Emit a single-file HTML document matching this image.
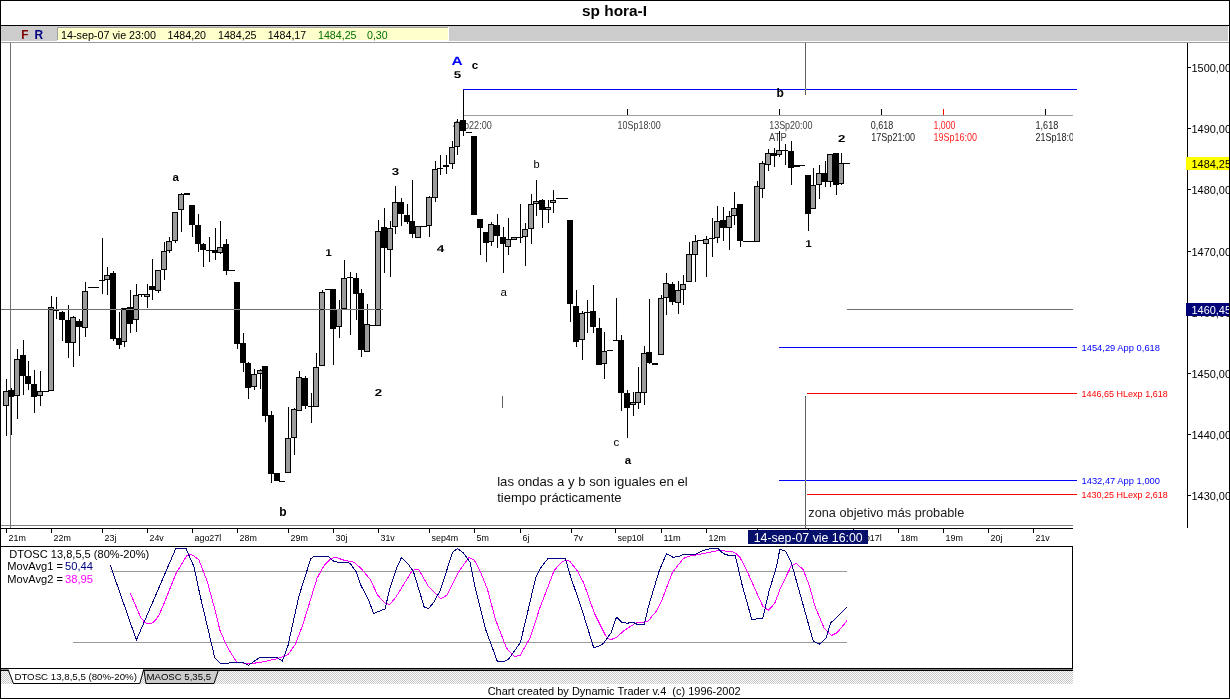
<!DOCTYPE html>
<html><head><meta charset="utf-8"><title>sp hora-I</title>
<style>
html,body{margin:0;padding:0;background:#fff;}
svg{display:block;font-family:"Liberation Sans",sans-serif;}
</style></head><body>
<svg width="1230" height="699" viewBox="0 0 1230 699" shape-rendering="crispEdges">
<rect x="0" y="0" width="1230" height="699" fill="#ffffff"/>
<rect x="0" y="25" width="1230" height="1" fill="#000"/>
<rect x="1" y="26" width="1227" height="15" fill="#cccccc"/>
<rect x="1" y="41" width="1228" height="1" fill="#ffffff"/>
<rect x="1" y="42" width="1228" height="1" fill="#9a9a9a"/>
<rect x="57" y="27" width="391" height="13" fill="#a0a0a0"/>
<rect x="58" y="28" width="390" height="12" fill="#ffffcc"/>
<rect x="57" y="40" width="392" height="1" fill="#ffffff"/>
<rect x="448" y="27" width="1" height="14" fill="#ffffff"/>
<rect x="463" y="115" width="610" height="1" fill="#a0a0a0"/>
<rect x="463" y="89" width="1" height="47" fill="#000"/>
<rect x="463" y="89" width="614" height="1" fill="#0000ff"/>
<rect x="627" y="109" width="1" height="6" fill="#000"/>
<rect x="779" y="109" width="1" height="6" fill="#000"/>
<rect x="881" y="109" width="1" height="6" fill="#000"/>
<rect x="943" y="109" width="1" height="6" fill="#ff0000"/>
<rect x="1045" y="109" width="1" height="6" fill="#000"/>
<rect x="779" y="347" width="298" height="1" fill="#0000ff"/>
<rect x="807" y="393" width="270" height="1" fill="#ff0000"/>
<rect x="779" y="480" width="298" height="1" fill="#0000ff"/>
<rect x="807" y="494" width="270" height="1" fill="#ff0000"/>
<rect x="502" y="396" width="1" height="12" fill="#606060"/>
<text x="453" y="129" font-size="11" fill="#404040" textLength="38.7" lengthAdjust="spacingAndGlyphs">4Sp22:00</text>
<text x="617.5" y="129" font-size="11" fill="#404040" textLength="43.3" lengthAdjust="spacingAndGlyphs">10Sp18:00</text>
<text x="769.2" y="129" font-size="11" fill="#404040" textLength="43.3" lengthAdjust="spacingAndGlyphs">13Sp20:00</text>
<text x="769" y="141" font-size="11" fill="#404040" textLength="17.7" lengthAdjust="spacingAndGlyphs">ATP</text>
<text x="870.8" y="129" font-size="11" fill="#1a1a1a" textLength="22.5" lengthAdjust="spacingAndGlyphs">0,618</text>
<text x="871.3" y="141" font-size="11" fill="#1a1a1a" textLength="43.7" lengthAdjust="spacingAndGlyphs">17Sp21:00</text>
<text x="933.5" y="129" font-size="11" fill="#ff2020" textLength="22" lengthAdjust="spacingAndGlyphs">1,000</text>
<text x="933.5" y="141" font-size="11" fill="#ff2020" textLength="43.5" lengthAdjust="spacingAndGlyphs">19Sp16:00</text>
<text x="1035.5" y="129" font-size="11" fill="#1a1a1a" textLength="22.8" lengthAdjust="spacingAndGlyphs">1,618</text>
<clipPath id="cpf"><rect x="1030" y="100" width="43" height="50"/></clipPath>
<text x="1035.5" y="141" font-size="11" fill="#1a1a1a" textLength="43.5" lengthAdjust="spacingAndGlyphs" clip-path="url(#cpf)">21Sp18:00</text>
<rect x="10" y="43" width="1" height="485" fill="#707070"/>
<rect x="6" y="379" width="1" height="57" fill="#000"/>
<rect x="3" y="391" width="6" height="15" fill="#000"/>
<rect x="4" y="392" width="4" height="13" fill="#9c9c9c"/>
<rect x="11" y="388" width="1" height="47" fill="#000"/>
<rect x="8" y="390" width="6" height="7" fill="#000"/>
<rect x="17" y="349" width="1" height="70" fill="#000"/>
<rect x="14" y="359" width="6" height="37" fill="#000"/>
<rect x="15" y="360" width="4" height="35" fill="#9c9c9c"/>
<rect x="23" y="340" width="1" height="55" fill="#000"/>
<rect x="20" y="355" width="6" height="21" fill="#000"/>
<rect x="28" y="361" width="1" height="29" fill="#000"/>
<rect x="25" y="376" width="6" height="8" fill="#000"/>
<rect x="34" y="370" width="1" height="43" fill="#000"/>
<rect x="31" y="384" width="6" height="13" fill="#000"/>
<rect x="40" y="371" width="1" height="35" fill="#000"/>
<rect x="37" y="391" width="6" height="5" fill="#000"/>
<rect x="38" y="392" width="4" height="3" fill="#9c9c9c"/>
<rect x="43" y="391" width="6" height="1" fill="#000"/>
<rect x="51" y="296" width="1" height="95" fill="#000"/>
<rect x="48" y="307" width="6" height="84" fill="#000"/>
<rect x="49" y="308" width="4" height="82" fill="#9c9c9c"/>
<rect x="56" y="297" width="1" height="22" fill="#000"/>
<rect x="53" y="310" width="6" height="1" fill="#000"/>
<rect x="62" y="311" width="1" height="30" fill="#000"/>
<rect x="59" y="312" width="6" height="8" fill="#000"/>
<rect x="68" y="305" width="1" height="53" fill="#000"/>
<rect x="65" y="320" width="6" height="23" fill="#000"/>
<rect x="73" y="316" width="1" height="51" fill="#000"/>
<rect x="70" y="317" width="6" height="26" fill="#000"/>
<rect x="71" y="318" width="4" height="24" fill="#9c9c9c"/>
<rect x="79" y="319" width="1" height="37" fill="#000"/>
<rect x="76" y="321" width="6" height="6" fill="#000"/>
<rect x="85" y="282" width="1" height="55" fill="#000"/>
<rect x="82" y="291" width="6" height="37" fill="#000"/>
<rect x="83" y="292" width="4" height="35" fill="#9c9c9c"/>
<rect x="88" y="287" width="6" height="1" fill="#000"/>
<rect x="93" y="287" width="6" height="1" fill="#000"/>
<rect x="102" y="238" width="1" height="56" fill="#000"/>
<rect x="99" y="280" width="6" height="1" fill="#000"/>
<rect x="107" y="267" width="1" height="28" fill="#000"/>
<rect x="104" y="275" width="6" height="5" fill="#000"/>
<rect x="105" y="276" width="4" height="3" fill="#9c9c9c"/>
<rect x="113" y="271" width="1" height="70" fill="#000"/>
<rect x="110" y="273" width="6" height="66" fill="#000"/>
<rect x="119" y="312" width="1" height="37" fill="#000"/>
<rect x="116" y="338" width="6" height="7" fill="#000"/>
<rect x="124" y="308" width="1" height="39" fill="#000"/>
<rect x="121" y="308" width="6" height="34" fill="#000"/>
<rect x="122" y="309" width="4" height="32" fill="#9c9c9c"/>
<rect x="130" y="290" width="1" height="43" fill="#000"/>
<rect x="127" y="307" width="6" height="17" fill="#000"/>
<rect x="136" y="284" width="1" height="48" fill="#000"/>
<rect x="133" y="295" width="6" height="25" fill="#000"/>
<rect x="134" y="296" width="4" height="23" fill="#9c9c9c"/>
<rect x="141" y="294" width="1" height="3" fill="#000"/>
<rect x="138" y="294" width="6" height="1" fill="#000"/>
<rect x="147" y="284" width="1" height="24" fill="#000"/>
<rect x="144" y="294" width="6" height="3" fill="#000"/>
<rect x="145" y="295" width="4" height="1" fill="#9c9c9c"/>
<rect x="152" y="259" width="1" height="41" fill="#000"/>
<rect x="149" y="286" width="6" height="4" fill="#000"/>
<rect x="158" y="270" width="1" height="23" fill="#000"/>
<rect x="155" y="270" width="6" height="21" fill="#000"/>
<rect x="156" y="271" width="4" height="19" fill="#9c9c9c"/>
<rect x="164" y="242" width="1" height="38" fill="#000"/>
<rect x="161" y="251" width="6" height="19" fill="#000"/>
<rect x="162" y="252" width="4" height="17" fill="#9c9c9c"/>
<rect x="169" y="237" width="1" height="16" fill="#000"/>
<rect x="166" y="241" width="6" height="10" fill="#000"/>
<rect x="167" y="242" width="4" height="8" fill="#9c9c9c"/>
<rect x="175" y="212" width="1" height="31" fill="#000"/>
<rect x="172" y="212" width="6" height="29" fill="#000"/>
<rect x="173" y="213" width="4" height="27" fill="#9c9c9c"/>
<rect x="181" y="193" width="1" height="39" fill="#000"/>
<rect x="178" y="194" width="6" height="16" fill="#000"/>
<rect x="179" y="195" width="4" height="14" fill="#9c9c9c"/>
<rect x="184" y="193" width="6" height="2" fill="#000"/>
<rect x="192" y="205" width="1" height="32" fill="#000"/>
<rect x="189" y="205" width="6" height="20" fill="#000"/>
<rect x="198" y="214" width="1" height="38" fill="#000"/>
<rect x="195" y="225" width="6" height="19" fill="#000"/>
<rect x="203" y="243" width="1" height="24" fill="#000"/>
<rect x="200" y="244" width="6" height="6" fill="#000"/>
<rect x="209" y="237" width="1" height="25" fill="#000"/>
<rect x="206" y="250" width="6" height="1" fill="#000"/>
<rect x="215" y="228" width="1" height="32" fill="#000"/>
<rect x="212" y="250" width="6" height="3" fill="#000"/>
<rect x="220" y="221" width="1" height="33" fill="#000"/>
<rect x="217" y="247" width="6" height="6" fill="#000"/>
<rect x="218" y="248" width="4" height="4" fill="#9c9c9c"/>
<rect x="226" y="239" width="1" height="36" fill="#000"/>
<rect x="223" y="244" width="6" height="27" fill="#000"/>
<rect x="229" y="270" width="6" height="1" fill="#000"/>
<rect x="237" y="282" width="1" height="67" fill="#000"/>
<rect x="234" y="282" width="6" height="62" fill="#000"/>
<rect x="243" y="333" width="1" height="39" fill="#000"/>
<rect x="240" y="343" width="6" height="20" fill="#000"/>
<rect x="248" y="362" width="1" height="37" fill="#000"/>
<rect x="245" y="363" width="6" height="25" fill="#000"/>
<rect x="254" y="369" width="1" height="21" fill="#000"/>
<rect x="251" y="374" width="6" height="13" fill="#000"/>
<rect x="252" y="375" width="4" height="11" fill="#9c9c9c"/>
<rect x="260" y="369" width="1" height="20" fill="#000"/>
<rect x="257" y="370" width="6" height="4" fill="#000"/>
<rect x="258" y="371" width="4" height="2" fill="#9c9c9c"/>
<rect x="265" y="366" width="1" height="56" fill="#000"/>
<rect x="262" y="366" width="6" height="50" fill="#000"/>
<rect x="271" y="411" width="1" height="72" fill="#000"/>
<rect x="268" y="415" width="6" height="59" fill="#000"/>
<rect x="274" y="473" width="6" height="8" fill="#000"/>
<rect x="279" y="481" width="6" height="1" fill="#000"/>
<rect x="288" y="407" width="1" height="66" fill="#000"/>
<rect x="285" y="438" width="6" height="35" fill="#000"/>
<rect x="286" y="439" width="4" height="33" fill="#9c9c9c"/>
<rect x="294" y="408" width="1" height="47" fill="#000"/>
<rect x="291" y="409" width="6" height="29" fill="#000"/>
<rect x="292" y="410" width="4" height="27" fill="#9c9c9c"/>
<rect x="299" y="371" width="1" height="40" fill="#000"/>
<rect x="296" y="377" width="6" height="34" fill="#000"/>
<rect x="297" y="378" width="4" height="32" fill="#9c9c9c"/>
<rect x="305" y="376" width="1" height="33" fill="#000"/>
<rect x="302" y="378" width="6" height="28" fill="#000"/>
<rect x="311" y="393" width="1" height="30" fill="#000"/>
<rect x="308" y="406" width="6" height="1" fill="#000"/>
<rect x="316" y="353" width="1" height="54" fill="#000"/>
<rect x="313" y="367" width="6" height="40" fill="#000"/>
<rect x="314" y="368" width="4" height="38" fill="#9c9c9c"/>
<rect x="322" y="290" width="1" height="76" fill="#000"/>
<rect x="319" y="292" width="6" height="74" fill="#000"/>
<rect x="320" y="293" width="4" height="72" fill="#9c9c9c"/>
<rect x="325" y="289" width="6" height="1" fill="#000"/>
<rect x="333" y="289" width="1" height="76" fill="#000"/>
<rect x="330" y="289" width="6" height="40" fill="#000"/>
<rect x="339" y="300" width="1" height="38" fill="#000"/>
<rect x="336" y="309" width="6" height="18" fill="#000"/>
<rect x="337" y="310" width="4" height="16" fill="#9c9c9c"/>
<rect x="344" y="260" width="1" height="49" fill="#000"/>
<rect x="341" y="278" width="6" height="31" fill="#000"/>
<rect x="342" y="279" width="4" height="29" fill="#9c9c9c"/>
<rect x="350" y="272" width="1" height="63" fill="#000"/>
<rect x="347" y="277" width="6" height="1" fill="#000"/>
<rect x="356" y="273" width="1" height="47" fill="#000"/>
<rect x="353" y="278" width="6" height="16" fill="#000"/>
<rect x="361" y="289" width="1" height="68" fill="#000"/>
<rect x="358" y="293" width="6" height="57" fill="#000"/>
<rect x="367" y="304" width="1" height="48" fill="#000"/>
<rect x="364" y="324" width="6" height="28" fill="#000"/>
<rect x="365" y="325" width="4" height="26" fill="#9c9c9c"/>
<rect x="370" y="325" width="6" height="1" fill="#000"/>
<rect x="378" y="220" width="1" height="106" fill="#000"/>
<rect x="375" y="231" width="6" height="95" fill="#000"/>
<rect x="376" y="232" width="4" height="93" fill="#9c9c9c"/>
<rect x="384" y="208" width="1" height="65" fill="#000"/>
<rect x="381" y="227" width="6" height="21" fill="#000"/>
<rect x="390" y="221" width="1" height="56" fill="#000"/>
<rect x="387" y="228" width="6" height="22" fill="#000"/>
<rect x="388" y="229" width="4" height="20" fill="#9c9c9c"/>
<rect x="395" y="186" width="1" height="48" fill="#000"/>
<rect x="392" y="202" width="6" height="25" fill="#000"/>
<rect x="393" y="203" width="4" height="23" fill="#9c9c9c"/>
<rect x="401" y="198" width="1" height="28" fill="#000"/>
<rect x="398" y="202" width="6" height="12" fill="#000"/>
<rect x="407" y="204" width="1" height="20" fill="#000"/>
<rect x="404" y="215" width="6" height="7" fill="#000"/>
<rect x="412" y="180" width="1" height="58" fill="#000"/>
<rect x="409" y="221" width="6" height="13" fill="#000"/>
<rect x="418" y="226" width="1" height="12" fill="#000"/>
<rect x="415" y="226" width="6" height="12" fill="#000"/>
<rect x="416" y="227" width="4" height="10" fill="#9c9c9c"/>
<rect x="421" y="226" width="6" height="1" fill="#000"/>
<rect x="429" y="196" width="1" height="41" fill="#000"/>
<rect x="426" y="197" width="6" height="29" fill="#000"/>
<rect x="427" y="198" width="4" height="27" fill="#9c9c9c"/>
<rect x="435" y="161" width="1" height="41" fill="#000"/>
<rect x="432" y="169" width="6" height="29" fill="#000"/>
<rect x="433" y="170" width="4" height="27" fill="#9c9c9c"/>
<rect x="440" y="155" width="1" height="20" fill="#000"/>
<rect x="437" y="168" width="6" height="1" fill="#000"/>
<rect x="446" y="155" width="1" height="19" fill="#000"/>
<rect x="443" y="165" width="6" height="2" fill="#000"/>
<rect x="452" y="141" width="1" height="28" fill="#000"/>
<rect x="449" y="147" width="6" height="17" fill="#000"/>
<rect x="450" y="148" width="4" height="15" fill="#9c9c9c"/>
<rect x="457" y="119" width="1" height="36" fill="#000"/>
<rect x="454" y="122" width="6" height="25" fill="#000"/>
<rect x="455" y="123" width="4" height="23" fill="#9c9c9c"/>
<rect x="463" y="120" width="1" height="16" fill="#000"/>
<rect x="460" y="120" width="6" height="11" fill="#000"/>
<rect x="466" y="132" width="6" height="1" fill="#000"/>
<rect x="474" y="136" width="1" height="79" fill="#000"/>
<rect x="471" y="136" width="6" height="79" fill="#000"/>
<rect x="480" y="219" width="1" height="36" fill="#000"/>
<rect x="477" y="219" width="6" height="9" fill="#000"/>
<rect x="486" y="232" width="1" height="30" fill="#000"/>
<rect x="483" y="232" width="6" height="11" fill="#000"/>
<rect x="491" y="222" width="1" height="24" fill="#000"/>
<rect x="488" y="224" width="6" height="18" fill="#000"/>
<rect x="489" y="225" width="4" height="16" fill="#9c9c9c"/>
<rect x="497" y="214" width="1" height="34" fill="#000"/>
<rect x="494" y="225" width="6" height="11" fill="#000"/>
<rect x="503" y="227" width="1" height="46" fill="#000"/>
<rect x="500" y="237" width="6" height="7" fill="#000"/>
<rect x="508" y="218" width="1" height="37" fill="#000"/>
<rect x="505" y="239" width="6" height="8" fill="#000"/>
<rect x="506" y="240" width="4" height="6" fill="#9c9c9c"/>
<rect x="511" y="237" width="6" height="3" fill="#000"/>
<rect x="512" y="238" width="4" height="1" fill="#9c9c9c"/>
<rect x="520" y="204" width="1" height="39" fill="#000"/>
<rect x="517" y="237" width="6" height="1" fill="#000"/>
<rect x="525" y="223" width="1" height="43" fill="#000"/>
<rect x="522" y="229" width="6" height="8" fill="#000"/>
<rect x="523" y="230" width="4" height="6" fill="#9c9c9c"/>
<rect x="531" y="194" width="1" height="50" fill="#000"/>
<rect x="528" y="204" width="6" height="25" fill="#000"/>
<rect x="529" y="205" width="4" height="23" fill="#9c9c9c"/>
<rect x="536" y="180" width="1" height="36" fill="#000"/>
<rect x="533" y="201" width="6" height="3" fill="#000"/>
<rect x="534" y="202" width="4" height="1" fill="#9c9c9c"/>
<rect x="542" y="199" width="1" height="29" fill="#000"/>
<rect x="539" y="200" width="6" height="10" fill="#000"/>
<rect x="548" y="200" width="1" height="23" fill="#000"/>
<rect x="545" y="207" width="6" height="3" fill="#000"/>
<rect x="546" y="208" width="4" height="1" fill="#9c9c9c"/>
<rect x="553" y="190" width="1" height="23" fill="#000"/>
<rect x="550" y="200" width="6" height="3" fill="#000"/>
<rect x="551" y="201" width="4" height="1" fill="#9c9c9c"/>
<rect x="556" y="198" width="6" height="1" fill="#000"/>
<rect x="562" y="198" width="6" height="1" fill="#000"/>
<rect x="570" y="220" width="1" height="102" fill="#000"/>
<rect x="567" y="220" width="6" height="84" fill="#000"/>
<rect x="576" y="290" width="1" height="57" fill="#000"/>
<rect x="573" y="306" width="6" height="36" fill="#000"/>
<rect x="582" y="311" width="1" height="49" fill="#000"/>
<rect x="579" y="313" width="6" height="27" fill="#000"/>
<rect x="580" y="314" width="4" height="25" fill="#9c9c9c"/>
<rect x="587" y="300" width="1" height="33" fill="#000"/>
<rect x="584" y="312" width="6" height="1" fill="#000"/>
<rect x="593" y="285" width="1" height="48" fill="#000"/>
<rect x="590" y="311" width="6" height="16" fill="#000"/>
<rect x="599" y="318" width="1" height="47" fill="#000"/>
<rect x="596" y="328" width="6" height="37" fill="#000"/>
<rect x="604" y="332" width="1" height="47" fill="#000"/>
<rect x="601" y="351" width="6" height="13" fill="#000"/>
<rect x="602" y="352" width="4" height="11" fill="#9c9c9c"/>
<rect x="607" y="350" width="6" height="1" fill="#000"/>
<rect x="616" y="298" width="1" height="42" fill="#000"/>
<rect x="613" y="340" width="6" height="1" fill="#000"/>
<rect x="621" y="335" width="1" height="76" fill="#000"/>
<rect x="618" y="340" width="6" height="53" fill="#000"/>
<rect x="627" y="390" width="1" height="48" fill="#000"/>
<rect x="624" y="393" width="6" height="15" fill="#000"/>
<rect x="633" y="392" width="1" height="24" fill="#000"/>
<rect x="630" y="402" width="6" height="3" fill="#000"/>
<rect x="631" y="403" width="4" height="1" fill="#9c9c9c"/>
<rect x="638" y="367" width="1" height="42" fill="#000"/>
<rect x="635" y="392" width="6" height="11" fill="#000"/>
<rect x="636" y="393" width="4" height="9" fill="#9c9c9c"/>
<rect x="644" y="346" width="1" height="59" fill="#000"/>
<rect x="641" y="353" width="6" height="40" fill="#000"/>
<rect x="642" y="354" width="4" height="38" fill="#9c9c9c"/>
<rect x="649" y="299" width="1" height="65" fill="#000"/>
<rect x="646" y="352" width="6" height="11" fill="#000"/>
<rect x="652" y="363" width="6" height="2" fill="#000"/>
<rect x="661" y="295" width="1" height="60" fill="#000"/>
<rect x="658" y="298" width="6" height="57" fill="#000"/>
<rect x="659" y="299" width="4" height="55" fill="#9c9c9c"/>
<rect x="666" y="273" width="1" height="42" fill="#000"/>
<rect x="663" y="283" width="6" height="15" fill="#000"/>
<rect x="664" y="284" width="4" height="13" fill="#9c9c9c"/>
<rect x="672" y="282" width="1" height="23" fill="#000"/>
<rect x="669" y="284" width="6" height="18" fill="#000"/>
<rect x="678" y="281" width="1" height="33" fill="#000"/>
<rect x="675" y="290" width="6" height="13" fill="#000"/>
<rect x="676" y="291" width="4" height="11" fill="#9c9c9c"/>
<rect x="683" y="275" width="1" height="30" fill="#000"/>
<rect x="680" y="284" width="6" height="6" fill="#000"/>
<rect x="681" y="285" width="4" height="4" fill="#9c9c9c"/>
<rect x="689" y="242" width="1" height="40" fill="#000"/>
<rect x="686" y="254" width="6" height="28" fill="#000"/>
<rect x="687" y="255" width="4" height="26" fill="#9c9c9c"/>
<rect x="695" y="235" width="1" height="47" fill="#000"/>
<rect x="692" y="241" width="6" height="14" fill="#000"/>
<rect x="693" y="242" width="4" height="12" fill="#9c9c9c"/>
<rect x="697" y="240" width="6" height="1" fill="#000"/>
<rect x="706" y="236" width="1" height="41" fill="#000"/>
<rect x="703" y="239" width="6" height="5" fill="#000"/>
<rect x="704" y="240" width="4" height="3" fill="#9c9c9c"/>
<rect x="712" y="218" width="1" height="39" fill="#000"/>
<rect x="709" y="238" width="6" height="1" fill="#000"/>
<rect x="717" y="206" width="1" height="37" fill="#000"/>
<rect x="714" y="221" width="6" height="17" fill="#000"/>
<rect x="715" y="222" width="4" height="15" fill="#9c9c9c"/>
<rect x="723" y="207" width="1" height="34" fill="#000"/>
<rect x="720" y="220" width="6" height="8" fill="#000"/>
<rect x="729" y="211" width="1" height="39" fill="#000"/>
<rect x="726" y="216" width="6" height="12" fill="#000"/>
<rect x="727" y="217" width="4" height="10" fill="#9c9c9c"/>
<rect x="734" y="192" width="1" height="33" fill="#000"/>
<rect x="731" y="208" width="6" height="8" fill="#000"/>
<rect x="732" y="209" width="4" height="6" fill="#9c9c9c"/>
<rect x="740" y="204" width="1" height="43" fill="#000"/>
<rect x="737" y="204" width="6" height="37" fill="#000"/>
<rect x="743" y="241" width="6" height="1" fill="#000"/>
<rect x="748" y="241" width="6" height="1" fill="#000"/>
<rect x="757" y="181" width="1" height="61" fill="#000"/>
<rect x="754" y="186" width="6" height="56" fill="#000"/>
<rect x="755" y="187" width="4" height="54" fill="#9c9c9c"/>
<rect x="762" y="161" width="1" height="37" fill="#000"/>
<rect x="759" y="163" width="6" height="26" fill="#000"/>
<rect x="760" y="164" width="4" height="24" fill="#9c9c9c"/>
<rect x="768" y="149" width="1" height="22" fill="#000"/>
<rect x="765" y="153" width="6" height="12" fill="#000"/>
<rect x="766" y="154" width="4" height="10" fill="#9c9c9c"/>
<rect x="774" y="148" width="1" height="19" fill="#000"/>
<rect x="771" y="153" width="6" height="3" fill="#000"/>
<rect x="779" y="131" width="1" height="26" fill="#000"/>
<rect x="776" y="150" width="6" height="5" fill="#000"/>
<rect x="777" y="151" width="4" height="3" fill="#9c9c9c"/>
<rect x="785" y="144" width="1" height="21" fill="#000"/>
<rect x="782" y="150" width="6" height="1" fill="#000"/>
<rect x="791" y="141" width="1" height="44" fill="#000"/>
<rect x="788" y="151" width="6" height="17" fill="#000"/>
<rect x="794" y="165" width="6" height="2" fill="#000"/>
<rect x="799" y="165" width="6" height="1" fill="#000"/>
<rect x="808" y="175" width="1" height="56" fill="#000"/>
<rect x="805" y="175" width="6" height="39" fill="#000"/>
<rect x="813" y="168" width="1" height="41" fill="#000"/>
<rect x="810" y="185" width="6" height="24" fill="#000"/>
<rect x="811" y="186" width="4" height="22" fill="#9c9c9c"/>
<rect x="819" y="165" width="1" height="34" fill="#000"/>
<rect x="816" y="173" width="6" height="12" fill="#000"/>
<rect x="817" y="174" width="4" height="10" fill="#9c9c9c"/>
<rect x="825" y="161" width="1" height="26" fill="#000"/>
<rect x="822" y="173" width="6" height="9" fill="#000"/>
<rect x="830" y="154" width="1" height="33" fill="#000"/>
<rect x="827" y="154" width="6" height="28" fill="#000"/>
<rect x="828" y="155" width="4" height="26" fill="#9c9c9c"/>
<rect x="836" y="153" width="1" height="42" fill="#000"/>
<rect x="833" y="153" width="6" height="32" fill="#000"/>
<rect x="841" y="153" width="1" height="32" fill="#000"/>
<rect x="838" y="163" width="6" height="21" fill="#000"/>
<rect x="839" y="164" width="4" height="19" fill="#9c9c9c"/>
<rect x="844" y="163" width="6" height="1" fill="#000"/>
<rect x="1" y="309" width="9" height="1" fill="#8f8f8f" style="mix-blend-mode:difference"/>
<rect x="11" y="309" width="372" height="1" fill="#8f8f8f" style="mix-blend-mode:difference"/>
<rect x="847" y="309" width="226" height="1" fill="#8f8f8f" style="mix-blend-mode:difference"/>
<rect x="805" y="43" width="1" height="52" fill="#9f9f9f" style="mix-blend-mode:difference"/>
<rect x="805" y="396" width="1" height="132" fill="#9f9f9f" style="mix-blend-mode:difference"/>
<rect x="1187" y="43" width="1" height="485" fill="#000"/>
<clipPath id="cpa"><rect x="1186" y="43" width="43" height="500"/></clipPath>
<g clip-path="url(#cpa)">
<rect x="1188" y="495" width="3" height="1" fill="#000"/>
<text x="1191.5" y="500" font-size="11" fill="#000" textLength="39.5" lengthAdjust="spacingAndGlyphs">1430,00</text>
<rect x="1188" y="434" width="3" height="1" fill="#000"/>
<text x="1191.5" y="439" font-size="11" fill="#000" textLength="39.5" lengthAdjust="spacingAndGlyphs">1440,00</text>
<rect x="1188" y="373" width="3" height="1" fill="#000"/>
<text x="1191.5" y="378" font-size="11" fill="#000" textLength="39.5" lengthAdjust="spacingAndGlyphs">1450,00</text>
<rect x="1188" y="312" width="3" height="1" fill="#000"/>
<text x="1191.5" y="317" font-size="11" fill="#000" textLength="39.5" lengthAdjust="spacingAndGlyphs">1460,00</text>
<rect x="1188" y="251" width="3" height="1" fill="#000"/>
<text x="1191.5" y="256" font-size="11" fill="#000" textLength="39.5" lengthAdjust="spacingAndGlyphs">1470,00</text>
<rect x="1188" y="189" width="3" height="1" fill="#000"/>
<text x="1191.5" y="194" font-size="11" fill="#000" textLength="39.5" lengthAdjust="spacingAndGlyphs">1480,00</text>
<rect x="1188" y="128" width="3" height="1" fill="#000"/>
<text x="1191.5" y="133" font-size="11" fill="#000" textLength="39.5" lengthAdjust="spacingAndGlyphs">1490,00</text>
<rect x="1188" y="67" width="3" height="1" fill="#000"/>
<text x="1191.5" y="72" font-size="11" fill="#000" textLength="39.5" lengthAdjust="spacingAndGlyphs">1500,00</text>
<rect x="1186" y="157" width="43" height="13" fill="#ffff00"/>
<text x="1191.5" y="168" font-size="11" fill="#000" textLength="39.5" lengthAdjust="spacingAndGlyphs">1484,25</text>
<rect x="1186" y="303" width="43" height="13" fill="#000078"/>
<text x="1191.5" y="314" font-size="11" fill="#fff" textLength="39.5" lengthAdjust="spacingAndGlyphs">1460,45</text>
</g>
<text x="1081.5" y="351" font-size="9.4" fill="#0000ff" textLength="78.5" lengthAdjust="spacingAndGlyphs">1454,29 App 0,618</text>
<text x="1081.5" y="397" font-size="9.4" fill="#ff0000" textLength="86.2" lengthAdjust="spacingAndGlyphs">1446,65 HLexp 1,618</text>
<text x="1081.5" y="484" font-size="9.4" fill="#0000ff" textLength="78.5" lengthAdjust="spacingAndGlyphs">1432,47 App 1,000</text>
<text x="1081.5" y="498" font-size="9.4" fill="#ff0000" textLength="86.2" lengthAdjust="spacingAndGlyphs">1430,25 HLexp 2,618</text>
<text x="497.2" y="486" font-size="13" fill="#101010" textLength="190.6" lengthAdjust="spacingAndGlyphs">las ondas a y b son iguales en el</text>
<text x="497.2" y="502" font-size="13" fill="#101010" textLength="124.3" lengthAdjust="spacingAndGlyphs">tiempo prácticamente</text>
<text x="808.3" y="517" font-size="13" fill="#202020" textLength="156" lengthAdjust="spacingAndGlyphs">zona objetivo más probable</text>
<text x="172.6" y="181" font-size="11.5" fill="#000" font-weight="bold">a</text>
<text x="279.3" y="516" font-size="12" fill="#000" font-weight="bold">b</text>
<text x="325.5" y="256" font-size="10" fill="#000" font-weight="bold" textLength="6.2" lengthAdjust="spacingAndGlyphs" text-rendering="geometricPrecision">1</text>
<text x="374.8" y="396" font-size="10" fill="#000" font-weight="bold" textLength="7.4" lengthAdjust="spacingAndGlyphs" text-rendering="geometricPrecision">2</text>
<text x="391.8" y="175" font-size="10" fill="#000" font-weight="bold" textLength="7.4" lengthAdjust="spacingAndGlyphs" text-rendering="geometricPrecision">3</text>
<text x="436.8" y="252" font-size="10" fill="#000" font-weight="bold" textLength="7.6" lengthAdjust="spacingAndGlyphs" text-rendering="geometricPrecision">4</text>
<text x="451.6" y="65" font-size="12" fill="#0000ff" font-weight="bold" textLength="11.2" lengthAdjust="spacingAndGlyphs" text-rendering="geometricPrecision">A</text>
<text x="453.8" y="78" font-size="10" fill="#000" font-weight="bold" textLength="7.4" lengthAdjust="spacingAndGlyphs" text-rendering="geometricPrecision">5</text>
<text x="471.8" y="69" font-size="11.5" fill="#000" font-weight="bold">c</text>
<text x="533.5" y="167.5" font-size="11" fill="#000">b</text>
<text x="500.6" y="295.8" font-size="11.5" fill="#000">a</text>
<text x="613.6" y="445.8" font-size="11.5" fill="#000">c</text>
<text x="624.8" y="463.8" font-size="11.5" fill="#000" font-weight="bold">a</text>
<text x="776.6" y="97.2" font-size="12" fill="#000" font-weight="bold">b</text>
<text x="805.5" y="247" font-size="10" fill="#000" font-weight="bold" textLength="6.2" lengthAdjust="spacingAndGlyphs" text-rendering="geometricPrecision">1</text>
<text x="838" y="142" font-size="10" fill="#000" font-weight="bold" textLength="7.4" lengthAdjust="spacingAndGlyphs" text-rendering="geometricPrecision">2</text>
<rect x="1" y="525" width="1072" height="1" fill="#808080"/>
<rect x="1" y="528" width="1072" height="1" fill="#000"/>
<rect x="6" y="528" width="1" height="5" fill="#000"/>
<text x="8.5" y="541" font-size="9.4" fill="#000" textLength="17.3" lengthAdjust="spacingAndGlyphs">21m</text>
<rect x="51" y="528" width="1" height="5" fill="#000"/>
<text x="53.5" y="541" font-size="9.4" fill="#000" textLength="17.3" lengthAdjust="spacingAndGlyphs">22m</text>
<rect x="102" y="528" width="1" height="5" fill="#000"/>
<text x="104.5" y="541" font-size="9.4" fill="#000" textLength="11.9" lengthAdjust="spacingAndGlyphs">23j</text>
<rect x="147" y="528" width="1" height="5" fill="#000"/>
<text x="149.5" y="541" font-size="9.4" fill="#000" textLength="14.3" lengthAdjust="spacingAndGlyphs">24v</text>
<rect x="192" y="528" width="1" height="5" fill="#000"/>
<text x="194.5" y="541" font-size="9.4" fill="#000" textLength="26.7" lengthAdjust="spacingAndGlyphs">ago27l</text>
<rect x="237" y="528" width="1" height="5" fill="#000"/>
<text x="239.5" y="541" font-size="9.4" fill="#000" textLength="17.3" lengthAdjust="spacingAndGlyphs">28m</text>
<rect x="288" y="528" width="1" height="5" fill="#000"/>
<text x="290.5" y="541" font-size="9.4" fill="#000" textLength="17.3" lengthAdjust="spacingAndGlyphs">29m</text>
<rect x="333" y="528" width="1" height="5" fill="#000"/>
<text x="335.5" y="541" font-size="9.4" fill="#000" textLength="11.9" lengthAdjust="spacingAndGlyphs">30j</text>
<rect x="378" y="528" width="1" height="5" fill="#000"/>
<text x="380.5" y="541" font-size="9.4" fill="#000" textLength="14.3" lengthAdjust="spacingAndGlyphs">31v</text>
<rect x="429" y="528" width="1" height="5" fill="#000"/>
<text x="431.5" y="541" font-size="9.4" fill="#000" textLength="26.7" lengthAdjust="spacingAndGlyphs">sep4m</text>
<rect x="474" y="528" width="1" height="5" fill="#000"/>
<text x="476.5" y="541" font-size="9.4" fill="#000" textLength="12.4" lengthAdjust="spacingAndGlyphs">5m</text>
<rect x="520" y="528" width="1" height="5" fill="#000"/>
<text x="522.5" y="541" font-size="9.4" fill="#000" textLength="6.9" lengthAdjust="spacingAndGlyphs">6j</text>
<rect x="571" y="528" width="1" height="5" fill="#000"/>
<text x="573.5" y="541" font-size="9.4" fill="#000" textLength="9.4" lengthAdjust="spacingAndGlyphs">7v</text>
<rect x="615" y="528" width="1" height="5" fill="#000"/>
<text x="617.5" y="541" font-size="9.4" fill="#000" textLength="26.2" lengthAdjust="spacingAndGlyphs">sep10l</text>
<rect x="661" y="528" width="1" height="5" fill="#000"/>
<text x="663.5" y="541" font-size="9.4" fill="#000" textLength="17.3" lengthAdjust="spacingAndGlyphs">11m</text>
<rect x="706" y="528" width="1" height="5" fill="#000"/>
<text x="708.5" y="541" font-size="9.4" fill="#000" textLength="17.3" lengthAdjust="spacingAndGlyphs">12m</text>
<rect x="757" y="528" width="1" height="5" fill="#000"/>
<text x="759.5" y="541" font-size="9.4" fill="#000" textLength="11.9" lengthAdjust="spacingAndGlyphs">13j</text>
<rect x="808" y="528" width="1" height="5" fill="#000"/>
<text x="810.5" y="541" font-size="9.4" fill="#000" textLength="14.3" lengthAdjust="spacingAndGlyphs">14v</text>
<rect x="853" y="528" width="1" height="5" fill="#000"/>
<text x="855.5" y="541" font-size="9.4" fill="#000" textLength="26.2" lengthAdjust="spacingAndGlyphs">sep17l</text>
<rect x="898" y="528" width="1" height="5" fill="#000"/>
<text x="900.5" y="541" font-size="9.4" fill="#000" textLength="17.3" lengthAdjust="spacingAndGlyphs">18m</text>
<rect x="943" y="528" width="1" height="5" fill="#000"/>
<text x="945.5" y="541" font-size="9.4" fill="#000" textLength="17.3" lengthAdjust="spacingAndGlyphs">19m</text>
<rect x="988" y="528" width="1" height="5" fill="#000"/>
<text x="990.5" y="541" font-size="9.4" fill="#000" textLength="11.9" lengthAdjust="spacingAndGlyphs">20j</text>
<rect x="1033" y="528" width="1" height="5" fill="#000"/>
<text x="1035.5" y="541" font-size="9.4" fill="#000" textLength="14.3" lengthAdjust="spacingAndGlyphs">21v</text>
<rect x="748" y="530" width="120" height="14" fill="#06106c"/>
<text x="753.7" y="542" font-size="13" fill="#fff" textLength="109" lengthAdjust="spacingAndGlyphs">14-sep-07 vie 16:00</text>
<rect x="0" y="546" width="1073" height="1" fill="#000"/>
<rect x="1072" y="546" width="1" height="123" fill="#000"/>
<rect x="0" y="668" width="1073" height="1" fill="#000"/>
<rect x="110" y="571" width="737" height="1" fill="#999999"/>
<rect x="73" y="642" width="774" height="1" fill="#999999"/>
<polyline points="130.4,593.4 141.0,618.0 145.0,622.5 148.4,624.0 152.0,623.2 155.7,620.0 159.3,614.4 164.8,601.6 170.0,588.5 175.8,574.0 186.8,555.5 191.4,554.4 198.7,559.5 200.0,562.8 207.3,581.5 214.7,608.9 220.1,630.9 227.5,647.4 236.6,662.0 249.5,663.9 262.3,662.0 276.9,658.8 287.9,654.7 295.2,644.7 302.6,625.4 309.9,601.6 317.2,577.8 324.5,565.0 331.0,558.6 335.5,557.3 344.7,560.4 353.8,562.2 361.2,568.6 370.3,579.6 377.7,595.2 385.0,603.1 389.6,604.7 396.0,597.0 403.3,585.1 412.5,570.1 418.7,569.6 428.7,587.0 440.6,598.9 447.0,595.2 459.0,571.4 469.0,557.3 474.5,560.4 481.0,573.2 487.3,588.8 495.6,619.9 506.6,648.3 514.8,656.6 520.3,655.1 530.4,637.3 539.5,608.9 554.2,570.5 561.5,562.2 564.3,560.9 567.0,560.4 569.8,561.4 572.5,564.8 577.1,570.5 583.5,582.4 594.5,613.5 605.5,635.5 610.0,640.1 616.5,637.3 623.8,630.9 634.8,623.6 637.3,622.7 642.8,622.7 648.3,620.8 656.6,610.8 662.0,599.8 672.1,573.2 683.1,558.6 688.6,556.2 696.8,554.9 708.8,552.5 719.7,550.3 734.4,552.2 739.9,557.3 747.2,571.4 758.2,596.1 762.8,606.2 768.3,610.4 774.7,603.4 780.2,588.8 791.2,565.9 796.3,563.5 803.1,569.6 809.5,586.0 815.0,606.2 824.1,628.2 831.5,635.5 837.0,632.7 842.5,626.3 847.0,620.5" fill="none" stroke="#ff00ff" stroke-width="1" shape-rendering="crispEdges"/>
<polyline points="110.3,565.3 136.4,640.0 175.8,548.5 186.0,548.5 194.0,566.8 200.0,595.2 214.7,657.5 220.1,663.3 228.4,663.3 230.2,662.4 243.0,662.4 248.5,665.3 259.5,657.5 277.0,657.5 282.4,661.1 288.0,645.6 298.9,596.1 310.8,558.6 314.5,556.2 328.2,556.2 333.7,561.3 338.3,562.2 346.5,562.2 350.2,563.5 356.6,572.3 360.3,584.2 368.5,599.8 373.6,613.5 385.0,608.9 389.6,589.7 396.0,569.6 401.5,557.3 408.8,565.0 413.4,571.4 419.8,592.5 424.2,607.1 428.7,608.6 434.2,601.6 440.6,589.7 452.5,552.2 457.5,548.6 463.5,553.1 470.0,562.2 475.4,588.8 485.5,629.1 497.4,661.5 503.8,661.5 508.4,659.3 520.3,642.8 525.8,619.9 535.9,576.9 541.4,566.8 548.3,558.2 565.2,558.2 570.7,576.9 581.7,608.9 593.6,647.4 598.2,646.5 603.6,643.4 611.0,632.7 616.5,617.2 622.0,622.3 627.5,623.2 633.0,622.1 637.3,624.5 644.3,624.5 648.3,607.1 659.3,570.5 666.6,553.6 673.0,557.3 679.5,556.2 683.1,554.4 695.0,554.4 703.3,550.3 711.5,548.5 717.9,548.5 723.4,553.6 728.9,555.5 735.3,555.5 741.7,583.3 751.8,619.6 762.8,618.1 769.2,590.6 776.5,566.8 779.8,549.4 785.7,551.2 791.2,562.2 802.2,601.6 813.2,641.0 819.6,644.1 826.0,638.2 830.5,623.2 847.0,607.1" fill="none" stroke="#000080" stroke-width="1" shape-rendering="crispEdges"/>
<text x="9.2" y="557.7" font-size="11" fill="#000" textLength="140" lengthAdjust="spacingAndGlyphs">DTOSC 13,8,5,5 (80%-20%)</text>
<text x="7.3" y="569.7" font-size="11" fill="#000" textLength="55.7" lengthAdjust="spacingAndGlyphs">MovAvg1 =</text>
<text x="65" y="569.7" font-size="11" fill="#000080" textLength="28" lengthAdjust="spacingAndGlyphs">50,44</text>
<text x="7.3" y="582.8" font-size="11" fill="#000" textLength="55.7" lengthAdjust="spacingAndGlyphs">MovAvg2 =</text>
<text x="65" y="582.8" font-size="11" fill="#ff00ff" textLength="28" lengthAdjust="spacingAndGlyphs">38,95</text>
<pattern id="dz" width="2" height="2" patternUnits="userSpaceOnUse"><rect width="2" height="2" fill="#fff"/><rect width="1" height="1" fill="#c8c8c8"/><rect x="1" y="1" width="1" height="1" fill="#c8c8c8"/></pattern>
<rect x="1" y="669" width="1072" height="1" fill="#808080"/>
<rect x="1" y="670" width="1072" height="1" fill="#000"/>
<rect x="1" y="671" width="1072" height="13" fill="url(#dz)"/>
<polygon points="8.5,669 143.5,669 139.8,683.5 13.4,683.5" fill="#fff" stroke="none" shape-rendering="auto"/>
<polyline points="8.3,670 13.4,683.5 139.8,683.5 143.7,669.5" fill="none" stroke="#000" stroke-width="1" shape-rendering="auto"/>
<polygon points="144,670.5 218.3,670.5 214,683.5 146,683.5" fill="#cccccc" stroke="#000" stroke-width="1" shape-rendering="auto"/>
<text x="14.4" y="680" font-size="9.8" fill="#000" textLength="122.5" lengthAdjust="spacingAndGlyphs">DTOSC 13,8,5,5 (80%-20%)</text>
<text x="146.5" y="680" font-size="9.8" fill="#000" textLength="64.5" lengthAdjust="spacingAndGlyphs">MAOSC 5,35,5</text>
<text x="487.7" y="695.2" font-size="11.5" fill="#000" textLength="253" lengthAdjust="spacingAndGlyphs" xml:space="preserve">Chart created by Dynamic Trader v.4  (c) 1996-2002</text>
<text x="582" y="15.9" font-size="14.2" fill="#000" font-weight="bold" textLength="65" lengthAdjust="spacingAndGlyphs">sp hora-I</text>
<text x="21.3" y="39.2" font-size="13" fill="#800000" font-weight="bold" textLength="7.2" lengthAdjust="spacingAndGlyphs">F</text>
<text x="34.5" y="39.2" font-size="13" fill="#000080" font-weight="bold" textLength="8.6" lengthAdjust="spacingAndGlyphs">R</text>
<text x="61" y="39" font-size="11" fill="#000" textLength="95" lengthAdjust="spacingAndGlyphs">14-sep-07 vie 23:00</text>
<text x="167.5" y="39" font-size="11" fill="#000" textLength="38.5" lengthAdjust="spacingAndGlyphs">1484,20</text>
<text x="218" y="39" font-size="11" fill="#000" textLength="38.5" lengthAdjust="spacingAndGlyphs">1484,25</text>
<text x="267.7" y="39" font-size="11" fill="#000" textLength="38.5" lengthAdjust="spacingAndGlyphs">1484,17</text>
<text x="318" y="39" font-size="11" fill="#007000" textLength="38.5" lengthAdjust="spacingAndGlyphs">1484,25</text>
<text x="367" y="39" font-size="11" fill="#007000" textLength="20.7" lengthAdjust="spacingAndGlyphs">0,30</text>
<rect x="0" y="0" width="1230" height="1" fill="#000"/>
<rect x="0" y="0" width="1" height="699" fill="#000"/>
<rect x="1229" y="0" width="1" height="699" fill="#000"/>
<rect x="0" y="698" width="1230" height="1" fill="#000"/>
</svg>
</body></html>
